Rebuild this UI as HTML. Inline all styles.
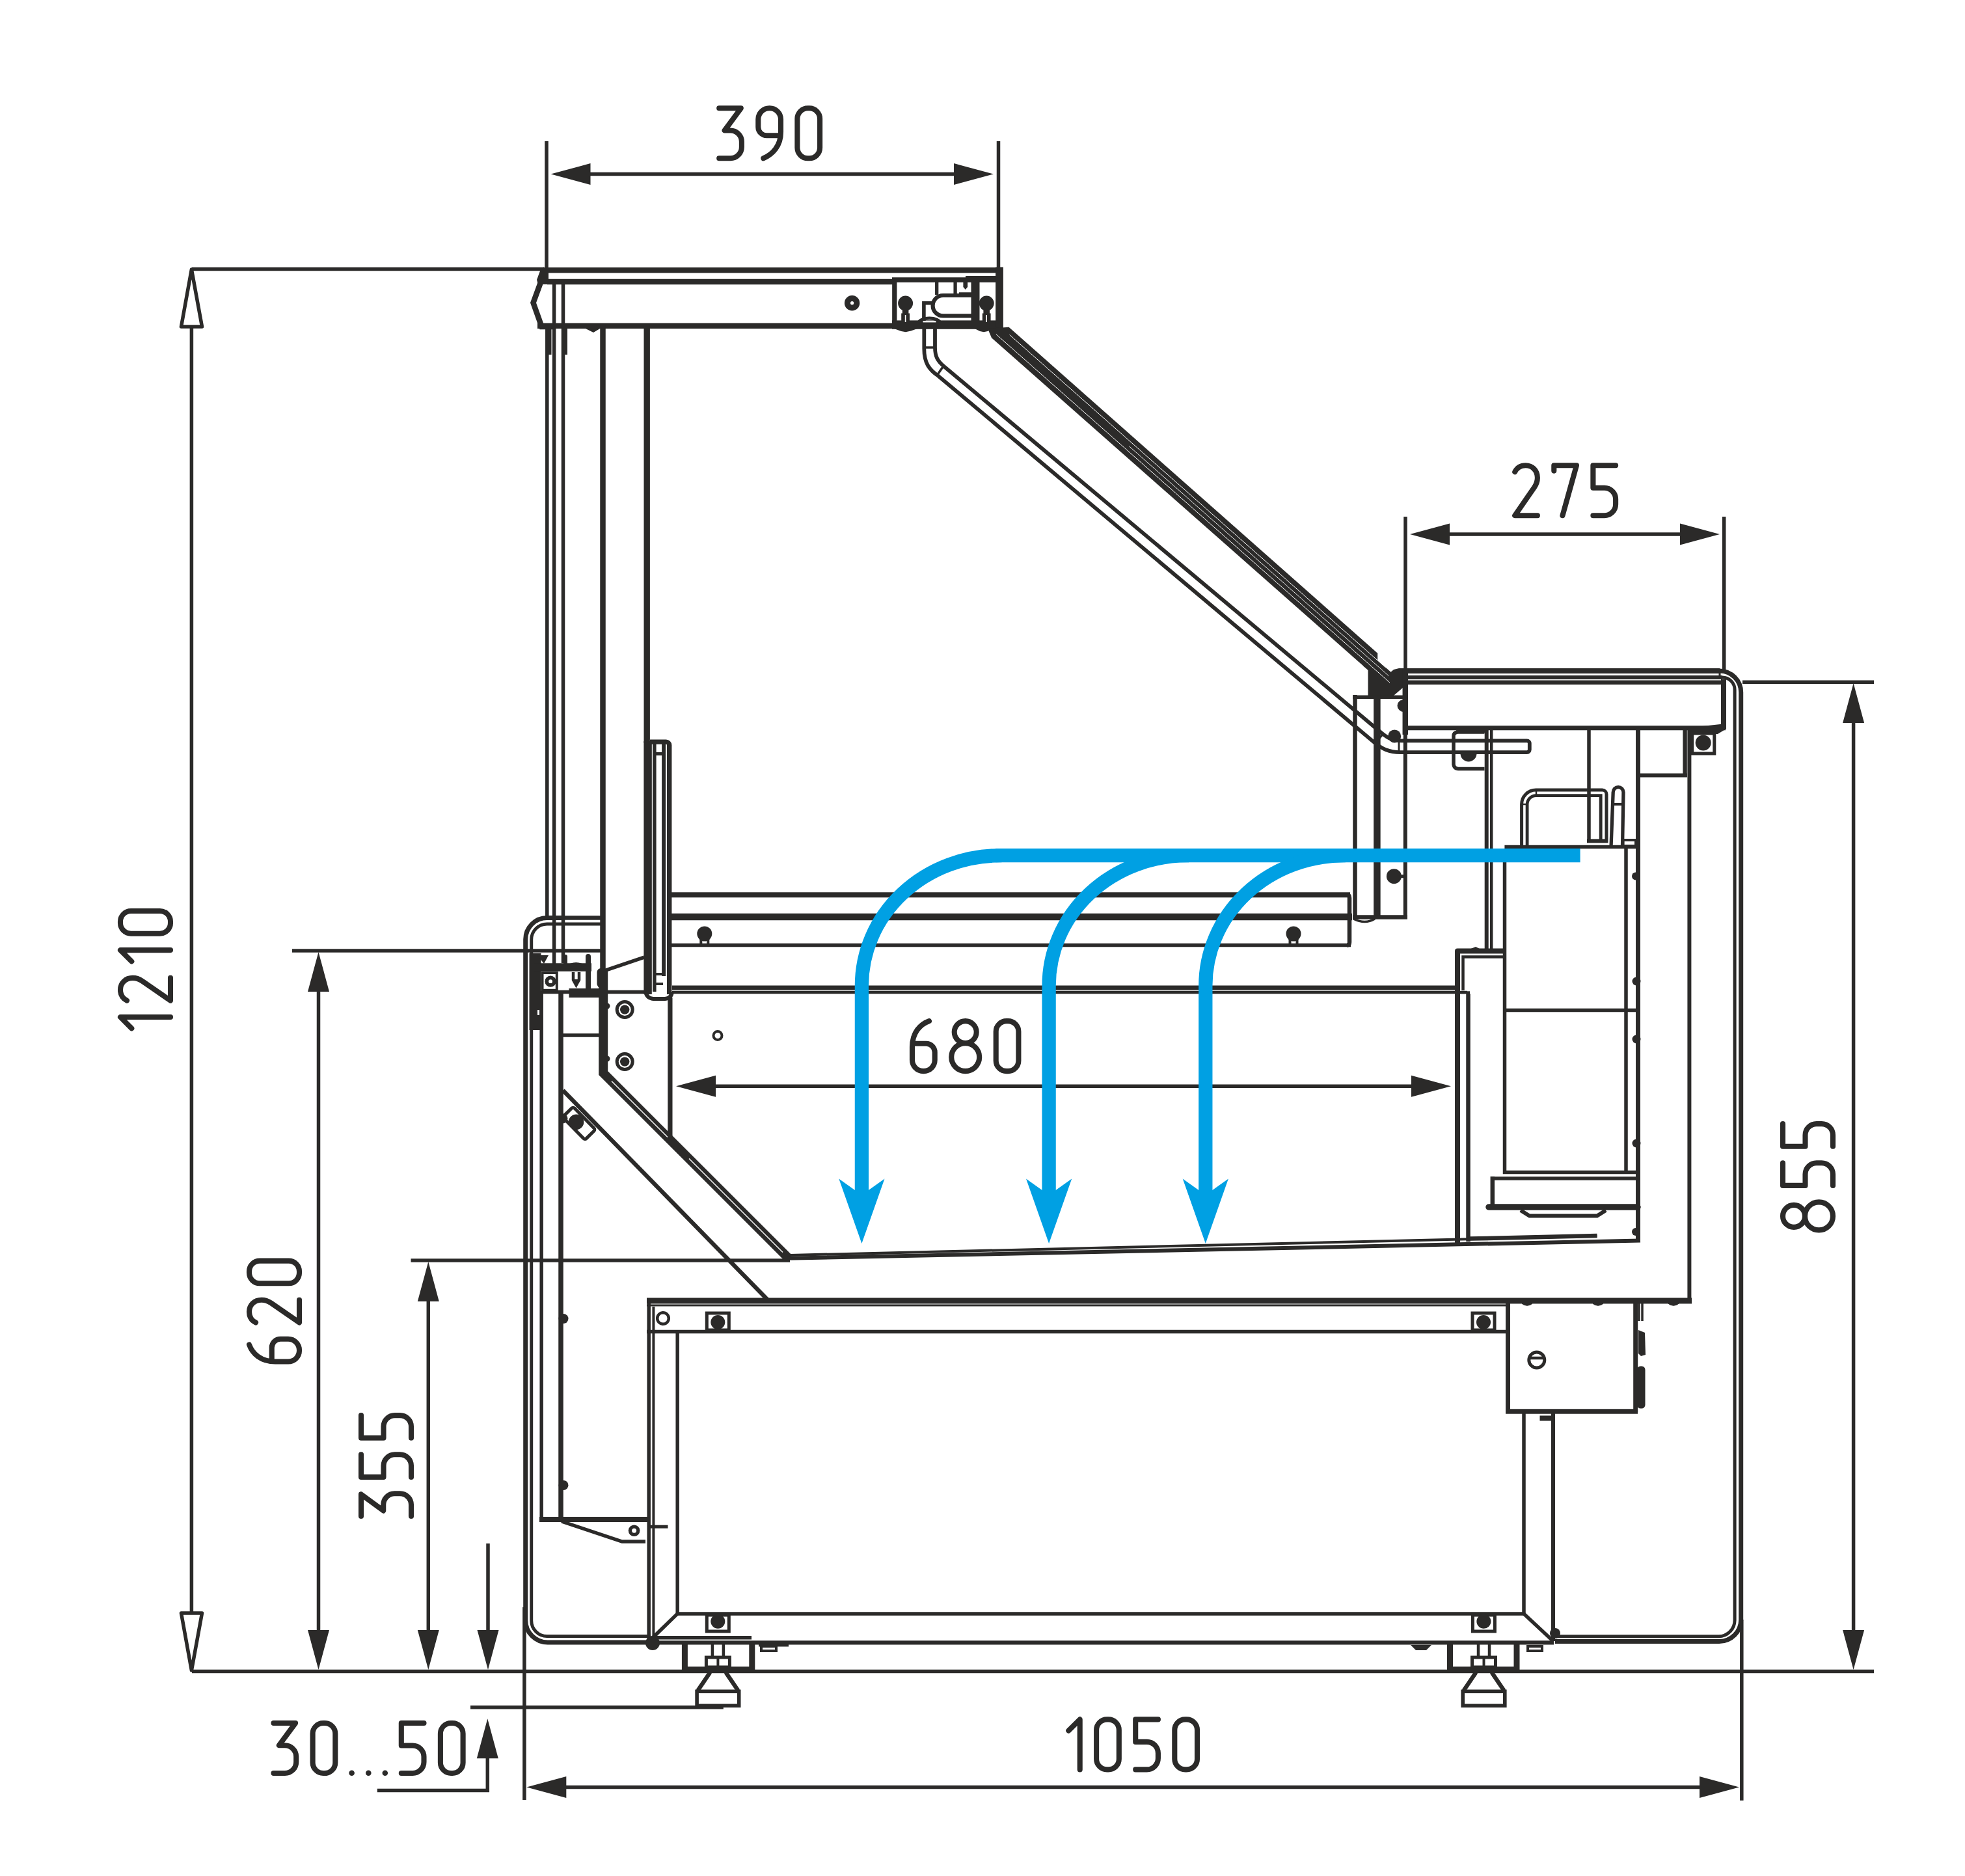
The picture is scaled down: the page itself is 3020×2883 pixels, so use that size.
<!DOCTYPE html>
<html><head><meta charset="utf-8"><title>drawing</title>
<style>html,body{margin:0;padding:0;width:3020px;height:2883px;overflow:hidden;background:#fff;font-family:"Liberation Sans",sans-serif}svg{display:block}</style>
</head><body>
<svg width="3020" height="2883" viewBox="0 0 3020 2883">
<rect x="0" y="0" width="3020" height="2883" fill="#ffffff"/>
<line x1="840.0" y1="217.0" x2="840.0" y2="412.0" stroke="#2b2a29" stroke-width="5.5" stroke-linecap="butt"/>
<line x1="1534.5" y1="217.0" x2="1534.5" y2="414.0" stroke="#2b2a29" stroke-width="5.5" stroke-linecap="butt"/>
<line x1="880.0" y1="267.6" x2="1490.0" y2="267.6" stroke="#2b2a29" stroke-width="5.5" stroke-linecap="butt"/>
<polygon points="846.5,267.6 907.5,251.1 907.5,284.1" fill="#2b2a29"/>
<polygon points="1527.0,267.6 1466.0,251.1 1466.0,284.1" fill="#2b2a29"/>
<g transform="translate(1105.2,243.3)" fill="none" stroke="#2b2a29" stroke-width="8.1" stroke-linecap="round" stroke-linejoin="round">
<path transform="translate(0.0,-77.0)" d="M0,0 H33.6 L8.4,34.2 H17.4 A17.3 17.3 0 0 1 34.7,51.5 V59.7 A17.3 17.3 0 0 1 17.4,77 H0"/>
<path transform="translate(60.1,-77.0)" d="M34.7,17 A17 17 0 0 0 17.7,0 H17 A17 17 0 0 0 0,17 V29 A13 13 0 0 0 13,42 H34 M34.7,17 V37 C34.7,58 22,71 8,77"/>
<path transform="translate(120.2,-77.0)" d="M0,16.2 A16.2 16.2 0 0 1 16.2,0 H18.500000000000004 A16.2 16.2 0 0 1 34.7,16.2 V60.8 A16.2 16.2 0 0 1 18.500000000000004,77.0 H16.2 A16.2 16.2 0 0 1 0,60.8 Z"/>
</g>
<line x1="295.0" y1="413.5" x2="836.0" y2="413.5" stroke="#2b2a29" stroke-width="5.5" stroke-linecap="butt"/>
<line x1="294.4" y1="500.0" x2="294.4" y2="2481.0" stroke="#2b2a29" stroke-width="5.5" stroke-linecap="butt"/>
<path d="M294.4,414 L278.5,502 H310.5 Z" stroke="#2b2a29" stroke-width="5.5" fill="none" stroke-linejoin="round" stroke-linecap="butt" />
<path d="M294.4,2567 L278.5,2479 H310.5 Z" stroke="#2b2a29" stroke-width="5.5" fill="none" stroke-linejoin="round" stroke-linecap="butt" />
<g transform="translate(262.0,1580.4) rotate(-90)" fill="none" stroke="#2b2a29" stroke-width="8.1" stroke-linecap="round" stroke-linejoin="round">
<path transform="translate(0.0,-77.0)" d="M0,17.3 L17.4,0 V77"/>
<path transform="translate(42.8,-77.0)" d="M0,10 C3,4 9,0 16.5,0 C27,0 34.7,8 34.7,19 C34.7,25 33,29 30,33.5 L0,77 H34.7"/>
<path transform="translate(102.9,-77.0)" d="M0,17.3 L17.4,0 V77"/>
<path transform="translate(145.7,-77.0)" d="M0,16.2 A16.2 16.2 0 0 1 16.2,0 H18.500000000000004 A16.2 16.2 0 0 1 34.7,16.2 V60.8 A16.2 16.2 0 0 1 18.500000000000004,77.0 H16.2 A16.2 16.2 0 0 1 0,60.8 Z"/>
</g>
<line x1="449.0" y1="1461.0" x2="923.0" y2="1461.0" stroke="#2b2a29" stroke-width="5.5" stroke-linecap="butt"/>
<line x1="489.5" y1="1500.0" x2="489.5" y2="2530.0" stroke="#2b2a29" stroke-width="5.5" stroke-linecap="butt"/>
<polygon points="489.5,1463.0 473.0,1524.0 506.0,1524.0" fill="#2b2a29"/>
<polygon points="489.5,2566.0 473.0,2505.0 506.0,2505.0" fill="#2b2a29"/>
<g transform="translate(460.0,2092.5) rotate(-90)" fill="none" stroke="#2b2a29" stroke-width="8.1" stroke-linecap="round" stroke-linejoin="round">
<path transform="translate(0.0,-77.0)" d="M26,0 C12,5 0,18 0,40 V60 A17 17 0 0 0 17,77 H17.7 A17 17 0 0 0 34.7,60 V48 A13.3 13.3 0 0 0 21.4,34.7 H1"/>
<path transform="translate(60.1,-77.0)" d="M0,10 C3,4 9,0 16.5,0 C27,0 34.7,8 34.7,19 C34.7,25 33,29 30,33.5 L0,77 H34.7"/>
<path transform="translate(120.2,-77.0)" d="M0,16.2 A16.2 16.2 0 0 1 16.2,0 H18.500000000000004 A16.2 16.2 0 0 1 34.7,16.2 V60.8 A16.2 16.2 0 0 1 18.500000000000004,77.0 H16.2 A16.2 16.2 0 0 1 0,60.8 Z"/>
</g>
<line x1="631.5" y1="1937.0" x2="1214.0" y2="1937.0" stroke="#2b2a29" stroke-width="5.5" stroke-linecap="butt"/>
<line x1="658.3" y1="1980.0" x2="658.3" y2="2530.0" stroke="#2b2a29" stroke-width="5.5" stroke-linecap="butt"/>
<polygon points="658.3,1939.0 641.8,2000.0 674.8,2000.0" fill="#2b2a29"/>
<polygon points="658.3,2566.0 641.8,2505.0 674.8,2505.0" fill="#2b2a29"/>
<g transform="translate(632.0,2330.0) rotate(-90)" fill="none" stroke="#2b2a29" stroke-width="8.1" stroke-linecap="round" stroke-linejoin="round">
<path transform="translate(0.0,-77.0)" d="M0,0 H33.6 L8.4,34.2 H17.4 A17.3 17.3 0 0 1 34.7,51.5 V59.7 A17.3 17.3 0 0 1 17.4,77 H0"/>
<path transform="translate(60.1,-77.0)" d="M34.7,0 H0 V34.5 H17.4 A17.3 17.3 0 0 1 34.7,51.8 V59.7 A17.3 17.3 0 0 1 17.4,77 H0"/>
<path transform="translate(120.2,-77.0)" d="M34.7,0 H0 V34.5 H17.4 A17.3 17.3 0 0 1 34.7,51.8 V59.7 A17.3 17.3 0 0 1 17.4,77 H0"/>
</g>
<line x1="750.0" y1="2372.0" x2="750.0" y2="2530.0" stroke="#2b2a29" stroke-width="5.5" stroke-linecap="butt"/>
<polygon points="750.0,2566.0 733.5,2505.0 766.5,2505.0" fill="#2b2a29"/>
<line x1="723.0" y1="2623.8" x2="1111.8" y2="2623.8" stroke="#2b2a29" stroke-width="5.5" stroke-linecap="butt"/>
<polygon points="749.3,2641.2 732.8,2702.2 765.8,2702.2" fill="#2b2a29"/>
<line x1="749.3" y1="2690.0" x2="749.3" y2="2754.0" stroke="#2b2a29" stroke-width="5.5" stroke-linecap="butt"/>
<line x1="579.8" y1="2751.4" x2="752.0" y2="2751.4" stroke="#2b2a29" stroke-width="5.5" stroke-linecap="butt"/>
<g transform="translate(420.5,2725.0)" fill="none" stroke="#2b2a29" stroke-width="8.1" stroke-linecap="round" stroke-linejoin="round">
<path transform="translate(0.0,-77.0)" d="M0,0 H33.6 L8.4,34.2 H17.4 A17.3 17.3 0 0 1 34.7,51.5 V59.7 A17.3 17.3 0 0 1 17.4,77 H0"/>
<path transform="translate(60.1,-77.0)" d="M0,16.2 A16.2 16.2 0 0 1 16.2,0 H18.500000000000004 A16.2 16.2 0 0 1 34.7,16.2 V60.8 A16.2 16.2 0 0 1 18.500000000000004,77.0 H16.2 A16.2 16.2 0 0 1 0,60.8 Z"/>
</g>
<circle cx="540.6" cy="2724.7" r="4.3" fill="#2b2a29" stroke="none" stroke-width="0"/>
<circle cx="566.3" cy="2724.7" r="4.3" fill="#2b2a29" stroke="none" stroke-width="0"/>
<circle cx="591.8" cy="2724.7" r="4.3" fill="#2b2a29" stroke="none" stroke-width="0"/>
<g transform="translate(616.8,2725.0)" fill="none" stroke="#2b2a29" stroke-width="8.1" stroke-linecap="round" stroke-linejoin="round">
<path transform="translate(0.0,-77.0)" d="M34.7,0 H0 V34.5 H17.4 A17.3 17.3 0 0 1 34.7,51.8 V59.7 A17.3 17.3 0 0 1 17.4,77 H0"/>
<path transform="translate(60.1,-77.0)" d="M0,16.2 A16.2 16.2 0 0 1 16.2,0 H18.500000000000004 A16.2 16.2 0 0 1 34.7,16.2 V60.8 A16.2 16.2 0 0 1 18.500000000000004,77.0 H16.2 A16.2 16.2 0 0 1 0,60.8 Z"/>
</g>
<line x1="295.0" y1="2568.4" x2="2880.0" y2="2568.4" stroke="#2b2a29" stroke-width="5.5" stroke-linecap="butt"/>
<line x1="805.9" y1="2470.0" x2="805.9" y2="2766.0" stroke="#2b2a29" stroke-width="5.5" stroke-linecap="butt"/>
<line x1="2676.8" y1="2489.0" x2="2676.8" y2="2767.0" stroke="#2b2a29" stroke-width="5.5" stroke-linecap="butt"/>
<line x1="850.0" y1="2746.4" x2="2630.0" y2="2746.4" stroke="#2b2a29" stroke-width="5.5" stroke-linecap="butt"/>
<polygon points="809.3,2746.4 870.3,2729.9 870.3,2762.9" fill="#2b2a29"/>
<polygon points="2673.0,2746.4 2612.0,2729.9 2612.0,2762.9" fill="#2b2a29"/>
<g transform="translate(1642.3,2719.4)" fill="none" stroke="#2b2a29" stroke-width="8.1" stroke-linecap="round" stroke-linejoin="round">
<path transform="translate(0.0,-77.0)" d="M0,17.3 L17.4,0 V77"/>
<path transform="translate(42.8,-77.0)" d="M0,16.2 A16.2 16.2 0 0 1 16.2,0 H18.500000000000004 A16.2 16.2 0 0 1 34.7,16.2 V60.8 A16.2 16.2 0 0 1 18.500000000000004,77.0 H16.2 A16.2 16.2 0 0 1 0,60.8 Z"/>
<path transform="translate(102.9,-77.0)" d="M34.7,0 H0 V34.5 H17.4 A17.3 17.3 0 0 1 34.7,51.8 V59.7 A17.3 17.3 0 0 1 17.4,77 H0"/>
<path transform="translate(163.0,-77.0)" d="M0,16.2 A16.2 16.2 0 0 1 16.2,0 H18.500000000000004 A16.2 16.2 0 0 1 34.7,16.2 V60.8 A16.2 16.2 0 0 1 18.500000000000004,77.0 H16.2 A16.2 16.2 0 0 1 0,60.8 Z"/>
</g>
<line x1="2678.0" y1="1048.2" x2="2880.0" y2="1048.2" stroke="#2b2a29" stroke-width="5.5" stroke-linecap="butt"/>
<line x1="2848.6" y1="1090.0" x2="2848.6" y2="2530.0" stroke="#2b2a29" stroke-width="5.5" stroke-linecap="butt"/>
<polygon points="2848.6,1050.0 2832.1,1111.0 2865.1,1111.0" fill="#2b2a29"/>
<polygon points="2848.6,2566.0 2832.1,2505.0 2865.1,2505.0" fill="#2b2a29"/>
<g transform="translate(2817.0,1890.5) rotate(-90)" fill="none" stroke="#2b2a29" stroke-width="8.1" stroke-linecap="round" stroke-linejoin="round">
<path transform="translate(0.0,-77.0)" d="M21.6,0 A17 17 0 1 0 21.6,34 A17 17 0 1 0 21.6,0 Z M21.6,34 A21.5 21.5 0 1 0 21.6,77 A21.5 21.5 0 1 0 21.6,34 Z"/>
<path transform="translate(68.6,-77.0)" d="M34.7,0 H0 V34.5 H17.4 A17.3 17.3 0 0 1 34.7,51.8 V59.7 A17.3 17.3 0 0 1 17.4,77 H0"/>
<path transform="translate(128.7,-77.0)" d="M34.7,0 H0 V34.5 H17.4 A17.3 17.3 0 0 1 34.7,51.8 V59.7 A17.3 17.3 0 0 1 17.4,77 H0"/>
</g>
<line x1="2160.0" y1="794.0" x2="2160.0" y2="1031.0" stroke="#2b2a29" stroke-width="5.5" stroke-linecap="butt"/>
<line x1="2649.7" y1="794.0" x2="2649.7" y2="1029.0" stroke="#2b2a29" stroke-width="5.5" stroke-linecap="butt"/>
<line x1="2200.0" y1="821.0" x2="2610.0" y2="821.0" stroke="#2b2a29" stroke-width="5.5" stroke-linecap="butt"/>
<polygon points="2167.0,821.0 2228.0,804.5 2228.0,837.5" fill="#2b2a29"/>
<polygon points="2643.0,821.0 2582.0,804.5 2582.0,837.5" fill="#2b2a29"/>
<g transform="translate(2328.2,792.2)" fill="none" stroke="#2b2a29" stroke-width="8.1" stroke-linecap="round" stroke-linejoin="round">
<path transform="translate(0.0,-77.0)" d="M0,10 C3,4 9,0 16.5,0 C27,0 34.7,8 34.7,19 C34.7,25 33,29 30,33.5 L0,77 H34.7"/>
<path transform="translate(60.1,-77.0)" d="M0,8.4 V0 H34.7 L13.2,77"/>
<path transform="translate(120.2,-77.0)" d="M34.7,0 H0 V34.5 H17.4 A17.3 17.3 0 0 1 34.7,51.8 V59.7 A17.3 17.3 0 0 1 17.4,77 H0"/>
</g>
<line x1="1080.0" y1="1669.2" x2="2190.0" y2="1669.2" stroke="#2b2a29" stroke-width="5.5" stroke-linecap="butt"/>
<polygon points="1039.0,1669.2 1100.0,1652.7 1100.0,1685.7" fill="#2b2a29"/>
<polygon points="2230.0,1669.2 2169.0,1652.7 2169.0,1685.7" fill="#2b2a29"/>
<g transform="translate(1402.0,1646.1)" fill="none" stroke="#2b2a29" stroke-width="8.1" stroke-linecap="round" stroke-linejoin="round">
<path transform="translate(0.0,-77.0)" d="M26,0 C12,5 0,18 0,40 V60 A17 17 0 0 0 17,77 H17.7 A17 17 0 0 0 34.7,60 V48 A13.3 13.3 0 0 0 21.4,34.7 H1"/>
<path transform="translate(60.1,-77.0)" d="M21.6,0 A17 17 0 1 0 21.6,34 A17 17 0 1 0 21.6,0 Z M21.6,34 A21.5 21.5 0 1 0 21.6,77 A21.5 21.5 0 1 0 21.6,34 Z"/>
<path transform="translate(128.7,-77.0)" d="M0,16.2 A16.2 16.2 0 0 1 16.2,0 H18.500000000000004 A16.2 16.2 0 0 1 34.7,16.2 V60.8 A16.2 16.2 0 0 1 18.500000000000004,77.0 H16.2 A16.2 16.2 0 0 1 0,60.8 Z"/>
</g>
<line x1="836.0" y1="415.2" x2="1540.0" y2="415.2" stroke="#2b2a29" stroke-width="8.5" stroke-linecap="butt"/>
<line x1="841.0" y1="432.9" x2="1376.0" y2="432.9" stroke="#2b2a29" stroke-width="8.5" stroke-linecap="butt"/>
<line x1="826.0" y1="500.8" x2="1540.0" y2="500.8" stroke="#2b2a29" stroke-width="8.5" stroke-linecap="butt"/>
<path d="M839,412 L819.5,465.3 L832.5,502 H850" stroke="#2b2a29" stroke-width="8.5" fill="none" stroke-linejoin="miter" stroke-linecap="butt" />
<polygon points="832.0,411.0 843.0,411.0 843.0,437.0 827.0,437.0 825.0,430.0" fill="#2b2a29"/>
<line x1="1374.8" y1="430.0" x2="1374.8" y2="503.0" stroke="#2b2a29" stroke-width="7.3" stroke-linecap="butt"/>
<line x1="1371.0" y1="430.2" x2="1540.0" y2="430.2" stroke="#2b2a29" stroke-width="7.8" stroke-linecap="butt"/>
<line x1="1484.0" y1="429.0" x2="1540.0" y2="429.0" stroke="#2b2a29" stroke-width="10" stroke-linecap="butt"/>
<rect x="1371.0" y="492.4" width="170.0" height="13.4" rx="0" stroke="#2b2a29" stroke-width="0" fill="#2b2a29"/>
<line x1="1536.0" y1="410.5" x2="1536.0" y2="505.8" stroke="#2b2a29" stroke-width="11.8" stroke-linecap="butt"/>
<circle cx="1309.6" cy="465.7" r="11.7" fill="#2b2a29" stroke="none" stroke-width="0"/>
<circle cx="1309.6" cy="465.7" r="2.6" fill="#fff" stroke="none" stroke-width="0"/>
<circle cx="1391.6" cy="466.1" r="11.5" fill="#2b2a29" stroke="none" stroke-width="0"/>
<rect x="1386.8" y="476.0" width="9.6" height="6.0" rx="0" stroke="#2b2a29" stroke-width="0" fill="#2b2a29"/>
<rect x="1385.2" y="481.5" width="12.8" height="12.5" rx="0" stroke="#2b2a29" stroke-width="0" fill="#2b2a29"/>
<line x1="1391.6" y1="484.0" x2="1391.6" y2="495.0" stroke="#fff" stroke-width="1.6" stroke-linecap="butt"/>
<circle cx="1516.2" cy="466.1" r="11.5" fill="#2b2a29" stroke="none" stroke-width="0"/>
<rect x="1511.4" y="476.0" width="9.6" height="6.0" rx="0" stroke="#2b2a29" stroke-width="0" fill="#2b2a29"/>
<rect x="1509.8" y="481.5" width="12.8" height="12.5" rx="0" stroke="#2b2a29" stroke-width="0" fill="#2b2a29"/>
<line x1="1516.2" y1="484.0" x2="1516.2" y2="495.0" stroke="#fff" stroke-width="1.6" stroke-linecap="butt"/>
<polygon points="1374.0,505.0 1385.0,509.0 1392.0,510.3 1400.0,508.5 1410.0,505.0" fill="#2b2a29"/>
<polygon points="1498.0,505.0 1506.0,509.0 1512.0,510.3 1518.0,509.0 1524.0,505.0" fill="#2b2a29"/>
<path d="M1496,454 H1449.3 A15.7 15.7 0 0 0 1449.3,485.4 H1496" stroke="#2b2a29" stroke-width="6.2" fill="none" stroke-linejoin="miter" stroke-linecap="butt" />
<line x1="1499.0" y1="433.0" x2="1499.0" y2="493.0" stroke="#2b2a29" stroke-width="13" stroke-linecap="butt"/>
<line x1="1439.7" y1="433.0" x2="1439.7" y2="453.0" stroke="#2b2a29" stroke-width="5.3" stroke-linecap="butt"/>
<line x1="1468.1" y1="433.0" x2="1468.1" y2="453.0" stroke="#2b2a29" stroke-width="5.3" stroke-linecap="butt"/>
<line x1="1474.0" y1="451.5" x2="1497.0" y2="451.5" stroke="#2b2a29" stroke-width="4.5" stroke-linecap="butt"/>
<polygon points="1480.4,433.0 1487.1,433.0 1487.1,441.0 1483.8,445.0 1480.4,441.0" fill="#2b2a29"/>
<path d="M1419.9,494 V465.7 H1432" stroke="#2b2a29" stroke-width="5.6" fill="none" stroke-linejoin="miter" stroke-linecap="butt" />
<path d="M1412,496.3 A16.3 7.2 0 0 1 1444.6,496.3" stroke="#2b2a29" stroke-width="5" fill="none" stroke-linejoin="miter" stroke-linecap="butt" />
<line x1="1418.5" y1="494.3" x2="1438.5" y2="494.3" stroke="#fff" stroke-width="2.2" stroke-linecap="butt"/>
<line x1="840.8" y1="503.0" x2="840.8" y2="1410.0" stroke="#2b2a29" stroke-width="5.5" stroke-linecap="butt"/>
<line x1="851.6" y1="433.0" x2="851.6" y2="1482.0" stroke="#2b2a29" stroke-width="5.5" stroke-linecap="butt"/>
<line x1="865.5" y1="433.0" x2="865.5" y2="1480.0" stroke="#2b2a29" stroke-width="5.5" stroke-linecap="butt"/>
<rect x="839.5" y="505.0" width="8.0" height="40.0" rx="0" stroke="#2b2a29" stroke-width="0" fill="#2b2a29"/>
<rect x="864.5" y="505.0" width="7.5" height="40.0" rx="0" stroke="#2b2a29" stroke-width="0" fill="#2b2a29"/>
<polygon points="900.0,505.0 912.0,511.0 922.0,505.0" fill="#2b2a29"/>
<line x1="926.5" y1="500.0" x2="926.5" y2="1490.0" stroke="#2b2a29" stroke-width="8.5" stroke-linecap="butt"/>
<path d="M1437,505 V534 C1437,548 1441,555 1451,563.2 L2124,1126.9 C2134,1134.9 2141,1138.3 2154,1138.3 H2344" stroke="#2b2a29" stroke-width="5.8" fill="none" stroke-linejoin="miter" stroke-linecap="butt" />
<path d="M1420.3,505 V536 C1420.3,558 1428,568 1442,577.7 L2112,1140.9 C2124,1150.9 2135,1156.1 2152,1156.1 H2344" stroke="#2b2a29" stroke-width="5.8" fill="none" stroke-linejoin="miter" stroke-linecap="butt" />
<path d="M2344,1138.3 H2346.8 A4 4 0 0 1 2350.8,1142.3 V1152.1 A4 4 0 0 1 2346.8,1156.1 H2344" stroke="#2b2a29" stroke-width="5.8" fill="none" stroke-linejoin="miter" stroke-linecap="butt" />
<line x1="1420.0" y1="534.0" x2="1437.0" y2="534.0" stroke="#2b2a29" stroke-width="3.5" stroke-linecap="butt"/>
<line x1="1440.0" y1="577.0" x2="1451.0" y2="561.0" stroke="#2b2a29" stroke-width="3.5" stroke-linecap="butt"/>
<line x1="2114.0" y1="1142.0" x2="2126.0" y2="1127.0" stroke="#2b2a29" stroke-width="3.5" stroke-linecap="butt"/>
<line x1="2150.0" y1="1138.0" x2="2150.0" y2="1156.0" stroke="#2b2a29" stroke-width="3" stroke-linecap="butt"/>
<polygon points="1550.5,502.7 2116.5,1003.3 2097.2,1025.1 1524.0,519.2 1518.0,505.0" fill="#2b2a29"/>
<polygon points="2109.1,1007.6 2146.6,1040.8 2132.7,1056.5 2095.2,1023.4" fill="#2b2a29"/>
<polygon points="2102.5,1003.3 2117.2,1003.3 2117.2,1018.0 2136.0,1034.0 2142.0,1029.0 2150.0,1027.0 2157.0,1027.0 2157.0,1056.0 2141.0,1069.8 2102.5,1069.8" fill="#2b2a29"/>
<line x1="1551.6" y1="514.5" x2="2129.6" y2="1025.8" stroke="#fff" stroke-width="1.0" stroke-linecap="butt"/>
<line x1="1530.9" y1="513.7" x2="2135.9" y2="1048.9" stroke="#fff" stroke-width="1.0" stroke-linecap="butt"/>
<line x1="1735.3" y1="685.7" x2="2134.3" y2="1038.6" stroke="#fff" stroke-width="0.9" stroke-linecap="butt"/>
<path d="M868,1410.5 H840.7 A33 33 0 0 0 807.7,1443.5 V2490 A34 34 0 0 0 841.7,2524 H1000" stroke="#2b2a29" stroke-width="7" fill="none" stroke-linejoin="miter" stroke-linecap="butt" />
<path d="M868,1420 H840.7 A24 24 0 0 0 816.7,1444 V2490.5 A24 24 0 0 0 840.7,2514.5 H1000" stroke="#2b2a29" stroke-width="5" fill="none" stroke-linejoin="miter" stroke-linecap="butt" />
<line x1="868.0" y1="1410.5" x2="923.0" y2="1410.5" stroke="#2b2a29" stroke-width="6.5" stroke-linecap="butt"/>
<line x1="868.0" y1="1420.0" x2="923.0" y2="1420.0" stroke="#2b2a29" stroke-width="5" stroke-linecap="butt"/>
<line x1="832.2" y1="1523.0" x2="832.2" y2="2337.0" stroke="#2b2a29" stroke-width="5.5" stroke-linecap="butt"/>
<line x1="862.0" y1="1524.0" x2="862.0" y2="2337.0" stroke="#2b2a29" stroke-width="7.5" stroke-linecap="butt"/>
<line x1="829.0" y1="2335.0" x2="996.0" y2="2335.0" stroke="#2b2a29" stroke-width="8" stroke-linecap="butt"/>
<circle cx="866.0" cy="2026.6" r="7.5" fill="#2b2a29" stroke="none" stroke-width="0"/>
<circle cx="866.0" cy="2282.4" r="7.5" fill="#2b2a29" stroke="none" stroke-width="0"/>
<path d="M863,2338 L956,2369 H992" stroke="#2b2a29" stroke-width="5.5" fill="none" stroke-linejoin="miter" stroke-linecap="butt" />
<circle cx="974.6" cy="2352.3" r="8.8" fill="#2b2a29" stroke="none" stroke-width="0"/>
<circle cx="974.6" cy="2352.3" r="3.5" fill="#fff" stroke="none" stroke-width="0"/>
<line x1="998.0" y1="2346.2" x2="1026.5" y2="2346.2" stroke="#2b2a29" stroke-width="5" stroke-linecap="butt"/>
<rect x="813.5" y="1465.0" width="18.0" height="118.0" rx="0" stroke="#2b2a29" stroke-width="0" fill="#2b2a29"/>
<rect x="826.0" y="1552.0" width="3.0" height="8.0" rx="0" stroke="#2b2a29" stroke-width="0" fill="#fff"/>
<line x1="831.6" y1="1524.5" x2="998.0" y2="1524.5" stroke="#2b2a29" stroke-width="5.5" stroke-linecap="butt"/>
<path d="M820,1486.5 H909" stroke="#2b2a29" stroke-width="12.5" fill="none" stroke-linejoin="miter" stroke-linecap="butt" />
<polygon points="826.0,1468.0 843.0,1468.0 836.0,1481.0" fill="#2b2a29"/>
<path d="M869,1487 Q885,1474 902,1487 Z" stroke="#2b2a29" stroke-width="3" fill="#2b2a29" stroke-linejoin="miter" stroke-linecap="butt" />
<line x1="904.0" y1="1470.0" x2="904.0" y2="1520.0" stroke="#2b2a29" stroke-width="8" stroke-linecap="round"/>
<line x1="869.0" y1="1470.0" x2="869.0" y2="1482.0" stroke="#2b2a29" stroke-width="6" stroke-linecap="round"/>
<rect x="833.5" y="1495.0" width="22.3" height="26.8" rx="0" stroke="#2b2a29" stroke-width="4" fill="none"/>
<circle cx="846.1" cy="1508.2" r="8.6" fill="#2b2a29" stroke="none" stroke-width="0"/>
<circle cx="846.1" cy="1508.2" r="2.9" fill="#fff" stroke="none" stroke-width="0"/>
<path d="M881,1494 V1506 L885.5,1514 L890,1506 V1494" stroke="#2b2a29" stroke-width="4.5" fill="none" stroke-linejoin="miter" stroke-linecap="butt" />
<polygon points="880.0,1505.0 891.0,1505.0 885.5,1516.0" fill="#2b2a29"/>
<rect x="874.5" y="1519.0" width="46.5" height="14.0" rx="0" stroke="#2b2a29" stroke-width="0" fill="#2b2a29"/>
<rect x="917.5" y="1488.0" width="13.0" height="30.0" rx="6" stroke="#2b2a29" stroke-width="0" fill="#2b2a29"/>
<path d="M930,1491.3 L990,1471.2" stroke="#2b2a29" stroke-width="5.5" fill="none" stroke-linejoin="miter" stroke-linecap="butt" />
<line x1="994.2" y1="500.0" x2="994.2" y2="1142.0" stroke="#2b2a29" stroke-width="9.4" stroke-linecap="butt"/>
<line x1="995.6" y1="1139.0" x2="995.6" y2="1528.0" stroke="#2b2a29" stroke-width="12.4" stroke-linecap="butt"/>
<path d="M999,1140.1 H1023.7 A5 5 0 0 1 1028.7,1145.1 V1528" stroke="#2b2a29" stroke-width="7.4" fill="none" stroke-linejoin="miter" stroke-linecap="butt" />
<line x1="1005.8" y1="1141.0" x2="1005.8" y2="1524.0" stroke="#2b2a29" stroke-width="5.6" stroke-linecap="butt"/>
<line x1="1020.1" y1="1141.0" x2="1020.1" y2="1500.0" stroke="#2b2a29" stroke-width="6" stroke-linecap="butt"/>
<line x1="1007.0" y1="1158.4" x2="1019.0" y2="1158.4" stroke="#2b2a29" stroke-width="5" stroke-linecap="butt"/>
<line x1="1007.0" y1="1497.0" x2="1019.0" y2="1497.0" stroke="#2b2a29" stroke-width="4" stroke-linecap="butt"/>
<line x1="1007.0" y1="1512.0" x2="1019.0" y2="1512.0" stroke="#2b2a29" stroke-width="4" stroke-linecap="butt"/>
<path d="M992,1524 Q994,1534 1004,1535 H1022 Q1032,1534 1033,1524" stroke="#2b2a29" stroke-width="6" fill="none" stroke-linejoin="miter" stroke-linecap="butt" />
<line x1="1031.6" y1="1375.3" x2="2075.0" y2="1375.3" stroke="#2b2a29" stroke-width="8" stroke-linecap="butt"/>
<line x1="1031.6" y1="1409.0" x2="2078.0" y2="1409.0" stroke="#2b2a29" stroke-width="10.5" stroke-linecap="butt"/>
<line x1="1031.6" y1="1452.5" x2="2076.0" y2="1452.5" stroke="#2b2a29" stroke-width="5.5" stroke-linecap="butt"/>
<path d="M2070,1375.3 Q2074,1375.3 2074,1380 V1448 Q2074,1452.5 2070,1452.5" stroke="#2b2a29" stroke-width="6.5" fill="none" stroke-linejoin="miter" stroke-linecap="butt" />
<circle cx="1082.8" cy="1435.0" r="11.5" fill="#2b2a29" stroke="none" stroke-width="0"/>
<rect x="1077.3" y="1444.0" width="11.0" height="8.0" rx="0" stroke="#2b2a29" stroke-width="4" fill="none"/>
<circle cx="1988.0" cy="1435.0" r="11.5" fill="#2b2a29" stroke="none" stroke-width="0"/>
<rect x="1982.5" y="1444.0" width="11.0" height="8.0" rx="0" stroke="#2b2a29" stroke-width="4" fill="none"/>
<line x1="1033.0" y1="1518.0" x2="2238.0" y2="1518.0" stroke="#2b2a29" stroke-width="7" stroke-linecap="butt"/>
<line x1="1033.0" y1="1525.0" x2="2255.0" y2="1525.0" stroke="#2b2a29" stroke-width="4.5" stroke-linecap="butt"/>
<path d="M927.2,1490 V1649 L1212,1933.8" stroke="#2b2a29" stroke-width="14" fill="none" stroke-linejoin="miter" stroke-linecap="butt" />
<line x1="940.0" y1="1661.6" x2="1026.0" y2="1747.6" stroke="#fff" stroke-width="1.4" stroke-linecap="butt"/>
<line x1="1059.0" y1="1780.6" x2="1203.0" y2="1924.6" stroke="#fff" stroke-width="1.4" stroke-linecap="butt"/>
<line x1="1209.5" y1="1933.8" x2="2521.0" y2="1906.5" stroke="#2b2a29" stroke-width="6" stroke-linecap="butt"/>
<line x1="1214.0" y1="1929.0" x2="2454.5" y2="1899.5" stroke="#2b2a29" stroke-width="4" stroke-linecap="butt"/>
<line x1="2258.6" y1="1903.6" x2="2454.5" y2="1899.0" stroke="#2b2a29" stroke-width="6.5" stroke-linecap="butt"/>
<line x1="1029.9" y1="1533.0" x2="1029.9" y2="1748.0" stroke="#2b2a29" stroke-width="7.2" stroke-linecap="butt"/>
<line x1="865.0" y1="1591.0" x2="921.0" y2="1591.0" stroke="#2b2a29" stroke-width="5.5" stroke-linecap="butt"/>
<circle cx="960.2" cy="1551.6" r="12" fill="none" stroke="#2b2a29" stroke-width="5"/>
<circle cx="960.2" cy="1551.6" r="7.2" fill="#2b2a29" stroke="none" stroke-width="0"/>
<circle cx="960.2" cy="1631.6" r="12" fill="none" stroke="#2b2a29" stroke-width="5"/>
<circle cx="960.2" cy="1631.6" r="7.2" fill="#2b2a29" stroke="none" stroke-width="0"/>
<circle cx="933.0" cy="1546.0" r="4.5" fill="#2b2a29" stroke="none" stroke-width="0"/>
<circle cx="933.0" cy="1627.0" r="4.5" fill="#2b2a29" stroke="none" stroke-width="0"/>
<circle cx="1103.0" cy="1591.5" r="6.5" fill="none" stroke="#2b2a29" stroke-width="4"/>
<line x1="865.3" y1="1675.7" x2="1183.0" y2="2000.7" stroke="#2b2a29" stroke-width="6.4" stroke-linecap="butt"/>
<g transform="translate(874.5,1694.5) rotate(45.6)"><rect x="9" y="0" width="49" height="22.6" rx="3" fill="none" stroke="#2b2a29" stroke-width="5"/><circle cx="29" cy="13" r="11.8" fill="#2b2a29"/></g>
<path d="M865,1712 A5.5 5.5 0 0 1 865,1726 Z" stroke="#2b2a29" stroke-width="1" fill="#2b2a29" stroke-linejoin="miter" stroke-linecap="butt" />
<line x1="994.0" y1="1999.0" x2="2600.0" y2="1999.0" stroke="#2b2a29" stroke-width="9" stroke-linecap="butt"/>
<line x1="994.0" y1="2006.0" x2="2318.0" y2="2006.0" stroke="#2b2a29" stroke-width="3" stroke-linecap="butt"/>
<line x1="997.2" y1="1996.0" x2="997.2" y2="2520.0" stroke="#2b2a29" stroke-width="5.5" stroke-linecap="butt"/>
<line x1="1004.4" y1="2008.0" x2="1004.4" y2="2520.0" stroke="#2b2a29" stroke-width="4" stroke-linecap="butt"/>
<line x1="994.0" y1="2046.6" x2="2318.0" y2="2046.6" stroke="#2b2a29" stroke-width="5.5" stroke-linecap="butt"/>
<line x1="1041.2" y1="2046.0" x2="1041.2" y2="2480.0" stroke="#2b2a29" stroke-width="5.5" stroke-linecap="butt"/>
<line x1="1039.0" y1="2479.9" x2="2344.0" y2="2479.9" stroke="#2b2a29" stroke-width="5.5" stroke-linecap="butt"/>
<line x1="1041.2" y1="2479.9" x2="1003.0" y2="2517.0" stroke="#2b2a29" stroke-width="5.5" stroke-linecap="butt"/>
<line x1="1006.0" y1="2516.8" x2="1155.0" y2="2516.8" stroke="#2b2a29" stroke-width="5.4" stroke-linecap="butt"/>
<line x1="1004.0" y1="2524.4" x2="2388.0" y2="2524.4" stroke="#2b2a29" stroke-width="6.2" stroke-linecap="butt"/>
<circle cx="1003.0" cy="2525.0" r="11" fill="#2b2a29" stroke="none" stroke-width="0"/>
<circle cx="1019.0" cy="2026.0" r="8.8" fill="none" stroke="#2b2a29" stroke-width="4.5"/>
<rect x="1086.3" y="2018.0" width="34.0" height="26.0" rx="0" stroke="#2b2a29" stroke-width="5" fill="none"/>
<circle cx="1103.3" cy="2032.0" r="11" fill="#2b2a29" stroke="none" stroke-width="0"/>
<rect x="2263.0" y="2018.0" width="34.0" height="26.0" rx="0" stroke="#2b2a29" stroke-width="5" fill="none"/>
<circle cx="2280.0" cy="2032.0" r="11" fill="#2b2a29" stroke="none" stroke-width="0"/>
<rect x="1086.3" y="2482.0" width="34.0" height="25.0" rx="0" stroke="#2b2a29" stroke-width="5" fill="none"/>
<circle cx="1103.3" cy="2491.8" r="11" fill="#2b2a29" stroke="none" stroke-width="0"/>
<rect x="2263.4" y="2482.0" width="34.0" height="25.0" rx="0" stroke="#2b2a29" stroke-width="5" fill="none"/>
<circle cx="2280.4" cy="2491.8" r="11" fill="#2b2a29" stroke="none" stroke-width="0"/>
<line x1="2342.0" y1="2172.0" x2="2342.0" y2="2480.0" stroke="#2b2a29" stroke-width="5.5" stroke-linecap="butt"/>
<line x1="2387.0" y1="2172.0" x2="2387.0" y2="2522.0" stroke="#2b2a29" stroke-width="6" stroke-linecap="butt"/>
<line x1="2342.0" y1="2479.9" x2="2387.0" y2="2522.0" stroke="#2b2a29" stroke-width="5.5" stroke-linecap="butt"/>
<circle cx="2390.0" cy="2510.0" r="8" fill="#2b2a29" stroke="none" stroke-width="0"/>
<path d="M1052.4,2527 V2565.7 H1155.8 V2527" stroke="#2b2a29" stroke-width="9" fill="none" stroke-linejoin="miter" stroke-linecap="butt" />
<line x1="1094.9" y1="2527.0" x2="1094.9" y2="2548.0" stroke="#2b2a29" stroke-width="4.5" stroke-linecap="butt"/>
<line x1="1111.9" y1="2527.0" x2="1111.9" y2="2548.0" stroke="#2b2a29" stroke-width="4.5" stroke-linecap="butt"/>
<rect x="1085.4" y="2547.0" width="36.0" height="15.0" rx="0" stroke="#2b2a29" stroke-width="5" fill="none"/>
<line x1="1103.4" y1="2547.0" x2="1103.4" y2="2562.0" stroke="#2b2a29" stroke-width="4" stroke-linecap="butt"/>
<path d="M1091.4,2570 L1072.4,2598 M1115.4,2570 L1134.4,2598" stroke="#2b2a29" stroke-width="6.5" fill="none" stroke-linejoin="miter" stroke-linecap="butt" />
<rect x="1071.1" y="2599.3" width="64.6" height="22.0" rx="0" stroke="#2b2a29" stroke-width="5.6" fill="none"/>
<path d="M2228.5,2527 V2565.7 H2331 V2527" stroke="#2b2a29" stroke-width="9" fill="none" stroke-linejoin="miter" stroke-linecap="butt" />
<line x1="2272.0" y1="2527.0" x2="2272.0" y2="2548.0" stroke="#2b2a29" stroke-width="4.5" stroke-linecap="butt"/>
<line x1="2289.0" y1="2527.0" x2="2289.0" y2="2548.0" stroke="#2b2a29" stroke-width="4.5" stroke-linecap="butt"/>
<rect x="2262.5" y="2547.0" width="36.0" height="15.0" rx="0" stroke="#2b2a29" stroke-width="5" fill="none"/>
<line x1="2280.5" y1="2547.0" x2="2280.5" y2="2562.0" stroke="#2b2a29" stroke-width="4" stroke-linecap="butt"/>
<path d="M2268.5,2570 L2249.5,2598 M2292.5,2570 L2311.5,2598" stroke="#2b2a29" stroke-width="6.5" fill="none" stroke-linejoin="miter" stroke-linecap="butt" />
<rect x="2248.2" y="2599.3" width="64.6" height="22.0" rx="0" stroke="#2b2a29" stroke-width="5.6" fill="none"/>
<rect x="1170.0" y="2530.0" width="23.0" height="7.0" rx="0" stroke="#2b2a29" stroke-width="4" fill="none"/>
<line x1="1166.0" y1="2528.0" x2="1212.0" y2="2528.0" stroke="#2b2a29" stroke-width="5" stroke-linecap="butt"/>
<rect x="2348.0" y="2530.0" width="22.0" height="7.0" rx="0" stroke="#2b2a29" stroke-width="4" fill="none"/>
<polygon points="2168.0,2528.0 2200.0,2528.0 2192.0,2536.0 2176.0,2536.0" fill="#2b2a29"/>
<line x1="2156.0" y1="1031.0" x2="2643.0" y2="1031.0" stroke="#2b2a29" stroke-width="8" stroke-linecap="butt"/>
<line x1="2160.0" y1="1041.0" x2="2647.0" y2="1041.0" stroke="#2b2a29" stroke-width="6" stroke-linecap="butt"/>
<line x1="2160.0" y1="1048.8" x2="2650.0" y2="1048.8" stroke="#2b2a29" stroke-width="6.5" stroke-linecap="butt"/>
<line x1="2159.8" y1="1027.0" x2="2159.8" y2="1129.0" stroke="#2b2a29" stroke-width="8.5" stroke-linecap="butt"/>
<line x1="2649.0" y1="1044.0" x2="2649.0" y2="1117.0" stroke="#2b2a29" stroke-width="8" stroke-linecap="butt"/>
<line x1="2157.0" y1="1118.7" x2="2652.0" y2="1118.7" stroke="#2b2a29" stroke-width="7" stroke-linecap="butt"/>
<polygon points="2598.0,1118.0 2653.0,1112.0 2653.0,1120.0 2640.0,1128.0 2598.0,1128.0" fill="#2b2a29"/>
<path d="M2643,1031 A33 33 0 0 1 2675.7,1064 V2489 A33.5 33.5 0 0 1 2642,2522.5 H2390" stroke="#2b2a29" stroke-width="7" fill="none" stroke-linejoin="miter" stroke-linecap="butt" />
<path d="M2647,1041 A19 19 0 0 1 2666.1,1060 V2489 A25 25 0 0 1 2641,2514.8 H2390" stroke="#2b2a29" stroke-width="5" fill="none" stroke-linejoin="miter" stroke-linecap="butt" />
<line x1="2643.0" y1="1031.0" x2="2643.0" y2="1044.0" stroke="#2b2a29" stroke-width="3" stroke-linecap="butt"/>
<line x1="2442.0" y1="1122.0" x2="2442.0" y2="1295.0" stroke="#2b2a29" stroke-width="5.5" stroke-linecap="butt"/>
<line x1="2517.5" y1="1122.0" x2="2517.5" y2="1909.0" stroke="#2b2a29" stroke-width="7" stroke-linecap="butt"/>
<line x1="2589.6" y1="1122.0" x2="2589.6" y2="1194.0" stroke="#2b2a29" stroke-width="6.4" stroke-linecap="butt"/>
<line x1="2596.4" y1="1122.0" x2="2596.4" y2="2000.0" stroke="#2b2a29" stroke-width="6" stroke-linecap="butt"/>
<line x1="2520.0" y1="1191.5" x2="2593.0" y2="1191.5" stroke="#2b2a29" stroke-width="6" stroke-linecap="butt"/>
<rect x="2600.7" y="1127.0" width="34.1" height="31.0" rx="0" stroke="#2b2a29" stroke-width="5" fill="none"/>
<circle cx="2617.7" cy="1141.5" r="12" fill="#2b2a29" stroke="none" stroke-width="0"/>
<path d="M2338.6,1301 V1236 A22 22 0 0 1 2360.6,1214 H2462.5 A6.5 6.5 0 0 1 2469,1220.5 V1295" stroke="#2b2a29" stroke-width="5" fill="none" stroke-linejoin="miter" stroke-linecap="butt" />
<path d="M2347.1,1301 V1236.2 A13.6 13.6 0 0 1 2360.7,1222.6 H2460.2 V1295" stroke="#2b2a29" stroke-width="4.8" fill="none" stroke-linejoin="miter" stroke-linecap="butt" />
<line x1="2439.0" y1="1292.4" x2="2471.0" y2="1292.4" stroke="#2b2a29" stroke-width="6" stroke-linecap="butt"/>
<line x1="2361.0" y1="1214.0" x2="2361.0" y2="1223.0" stroke="#2b2a29" stroke-width="2.5" stroke-linecap="butt"/>
<line x1="2338.0" y1="1236.0" x2="2347.0" y2="1236.0" stroke="#2b2a29" stroke-width="2.5" stroke-linecap="butt"/>
<path d="M2476,1302 L2479.2,1217.5 A7.9 7.9 0 0 1 2495,1217.5 L2493.5,1302" stroke="#2b2a29" stroke-width="5.3" fill="none" stroke-linejoin="miter" stroke-linecap="butt" />
<line x1="2478.5" y1="1235.9" x2="2494.5" y2="1235.9" stroke="#2b2a29" stroke-width="4" stroke-linecap="butt"/>
<rect x="2494.5" y="1291.0" width="19.5" height="9.0" rx="0" stroke="#2b2a29" stroke-width="4" fill="none"/>
<line x1="2312.4" y1="1301.5" x2="2517.0" y2="1301.5" stroke="#2b2a29" stroke-width="5.5" stroke-linecap="butt"/>
<line x1="2312.5" y1="1325.0" x2="2312.5" y2="1804.0" stroke="#2b2a29" stroke-width="5.5" stroke-linecap="butt"/>
<line x1="2499.0" y1="1302.0" x2="2499.0" y2="1804.0" stroke="#2b2a29" stroke-width="5.5" stroke-linecap="butt"/>
<line x1="2310.0" y1="1801.6" x2="2514.0" y2="1801.6" stroke="#2b2a29" stroke-width="5.5" stroke-linecap="butt"/>
<line x1="2312.0" y1="1552.4" x2="2517.0" y2="1552.4" stroke="#2b2a29" stroke-width="5.5" stroke-linecap="butt"/>
<circle cx="2515.0" cy="1508.0" r="6.5" fill="#2b2a29" stroke="none" stroke-width="0"/>
<circle cx="2515.0" cy="1597.0" r="6.5" fill="#2b2a29" stroke="none" stroke-width="0"/>
<circle cx="2515.0" cy="1757.0" r="6.5" fill="#2b2a29" stroke="none" stroke-width="0"/>
<circle cx="2514.0" cy="1893.0" r="6" fill="#2b2a29" stroke="none" stroke-width="0"/>
<circle cx="2514.0" cy="1346.5" r="6" fill="#2b2a29" stroke="none" stroke-width="0"/>
<line x1="2291.0" y1="1811.0" x2="2514.0" y2="1811.0" stroke="#2b2a29" stroke-width="5.5" stroke-linecap="butt"/>
<line x1="2293.8" y1="1808.0" x2="2293.8" y2="1858.0" stroke="#2b2a29" stroke-width="6.5" stroke-linecap="butt"/>
<line x1="2288.0" y1="1855.0" x2="2517.0" y2="1855.0" stroke="#2b2a29" stroke-width="9.5" stroke-linecap="round"/>
<path d="M2337,1860 L2350.6,1868.5 H2454.5 L2468,1860" stroke="#2b2a29" stroke-width="6" fill="none" stroke-linejoin="miter" stroke-linecap="butt" />
<line x1="2284.7" y1="1122.0" x2="2284.7" y2="1460.0" stroke="#2b2a29" stroke-width="6" stroke-linecap="butt"/>
<line x1="2292.2" y1="1122.0" x2="2292.2" y2="1460.0" stroke="#2b2a29" stroke-width="4.5" stroke-linecap="butt"/>
<path d="M2281.5,1125 H2240 Q2234,1126 2234,1131 V1175 Q2235,1181 2241,1181.5 H2281.5" stroke="#2b2a29" stroke-width="5.5" fill="none" stroke-linejoin="miter" stroke-linecap="butt" />
<polygon points="2236.0,1119.0 2282.0,1119.0 2282.0,1126.0 2240.0,1126.0" fill="#2b2a29"/>
<path d="M2246,1158 A9 9 0 0 0 2268,1158 Z" stroke="#2b2a29" stroke-width="3" fill="#2b2a29" stroke-linejoin="miter" stroke-linecap="butt" />
<path d="M2313,1461.5 H2240 V1526" stroke="#2b2a29" stroke-width="8" fill="none" stroke-linejoin="round" stroke-linecap="butt" />
<path d="M2313,1470.6 H2248.5 V1522" stroke="#2b2a29" stroke-width="4.5" fill="none" stroke-linejoin="miter" stroke-linecap="butt" />
<polygon points="2258.0,1459.0 2268.0,1455.0 2276.0,1459.0" fill="#2b2a29"/>
<line x1="2240.0" y1="1522.0" x2="2240.0" y2="1910.0" stroke="#2b2a29" stroke-width="8" stroke-linecap="butt"/>
<line x1="2256.5" y1="1527.0" x2="2256.5" y2="1908.0" stroke="#2b2a29" stroke-width="6.5" stroke-linecap="butt"/>
<line x1="2244.0" y1="1525.3" x2="2259.0" y2="1525.3" stroke="#2b2a29" stroke-width="4" stroke-linecap="butt"/>
<line x1="2082.5" y1="1068.0" x2="2082.5" y2="1411.0" stroke="#2b2a29" stroke-width="6.5" stroke-linecap="butt"/>
<line x1="2116.4" y1="1066.0" x2="2116.4" y2="1411.0" stroke="#2b2a29" stroke-width="10.5" stroke-linecap="butt"/>
<line x1="2159.8" y1="1129.0" x2="2159.8" y2="1411.0" stroke="#2b2a29" stroke-width="6" stroke-linecap="butt"/>
<line x1="2079.0" y1="1071.2" x2="2157.0" y2="1071.2" stroke="#2b2a29" stroke-width="5.5" stroke-linecap="butt"/>
<line x1="2079.0" y1="1409.4" x2="2163.0" y2="1409.4" stroke="#2b2a29" stroke-width="6.5" stroke-linecap="butt"/>
<path d="M2080,1412 Q2098,1421 2113,1412" stroke="#2b2a29" stroke-width="3.5" fill="none" stroke-linejoin="miter" stroke-linecap="butt" />
<circle cx="2142.4" cy="1346.7" r="11.5" fill="#2b2a29" stroke="none" stroke-width="0"/>
<line x1="2150.0" y1="1346.7" x2="2160.0" y2="1346.7" stroke="#2b2a29" stroke-width="5" stroke-linecap="butt"/>
<circle cx="2143.2" cy="1131.4" r="10" fill="#2b2a29" stroke="none" stroke-width="0"/>
<path d="M2157,1075.5 A9 9 0 0 0 2157,1093.5 Z" stroke="#2b2a29" stroke-width="1" fill="#2b2a29" stroke-linejoin="miter" stroke-linecap="butt" />
<line x1="2317.5" y1="2000.0" x2="2317.5" y2="2170.0" stroke="#2b2a29" stroke-width="7" stroke-linecap="butt"/>
<line x1="2513.7" y1="2000.0" x2="2513.7" y2="2170.0" stroke="#2b2a29" stroke-width="7" stroke-linecap="butt"/>
<line x1="2314.0" y1="2169.0" x2="2517.0" y2="2169.0" stroke="#2b2a29" stroke-width="7.5" stroke-linecap="butt"/>
<circle cx="2361.8" cy="2090.0" r="12" fill="none" stroke="#2b2a29" stroke-width="5"/>
<line x1="2351.0" y1="2087.0" x2="2373.0" y2="2087.0" stroke="#2b2a29" stroke-width="4.5" stroke-linecap="butt"/>
<line x1="2519.0" y1="2003.0" x2="2519.0" y2="2030.0" stroke="#2b2a29" stroke-width="3.5" stroke-linecap="butt"/>
<line x1="2524.0" y1="2003.0" x2="2524.0" y2="2030.0" stroke="#2b2a29" stroke-width="3.5" stroke-linecap="butt"/>
<polygon points="2518.0,2044.0 2528.0,2048.0 2529.0,2082.0 2522.0,2084.0 2518.0,2080.0" fill="#2b2a29"/>
<rect x="2518.5" y="2102.0" width="7.5" height="60.0" rx="3" stroke="#2b2a29" stroke-width="5" fill="#2b2a29"/>
<path d="M2339,2003 A9 6 0 0 0 2355,2003 Z" stroke="#2b2a29" stroke-width="1" fill="#2b2a29" stroke-linejoin="miter" stroke-linecap="butt" />
<path d="M2448,2003 A9 6 0 0 0 2464,2003 Z" stroke="#2b2a29" stroke-width="1" fill="#2b2a29" stroke-linejoin="miter" stroke-linecap="butt" />
<path d="M2564,2003 A9 6 0 0 0 2580,2003 Z" stroke="#2b2a29" stroke-width="1" fill="#2b2a29" stroke-linejoin="miter" stroke-linecap="butt" />
<rect x="2368.0" y="2177.0" width="16.0" height="5.0" rx="0" stroke="#2b2a29" stroke-width="3" fill="#2b2a29"/>
<line x1="1530.0" y1="1314.7" x2="2428.6" y2="1314.7" stroke="#00a0e3" stroke-width="21.3" stroke-linecap="butt"/>
<path d="M1539.4,1314.7 H1537.4 A213 200 0 0 0 1324.4,1514.7 V1842" stroke="#00a0e3" stroke-width="21.3" fill="none" stroke-linejoin="miter" stroke-linecap="butt" />
<polygon points="1324.4,1911.1 1289.3,1811.5 1324.4,1836.5 1359.5,1811.5" fill="#00a0e3"/>
<path d="M1827.1,1314.7 H1825.1 A213 200 0 0 0 1612.1,1514.7 V1842" stroke="#00a0e3" stroke-width="21.3" fill="none" stroke-linejoin="miter" stroke-linecap="butt" />
<polygon points="1612.1,1911.1 1577.0,1811.5 1612.1,1836.5 1647.2,1811.5" fill="#00a0e3"/>
<path d="M2067.8,1314.7 H2065.8 A213 200 0 0 0 1852.8,1514.7 V1842" stroke="#00a0e3" stroke-width="21.3" fill="none" stroke-linejoin="miter" stroke-linecap="butt" />
<polygon points="1852.8,1911.1 1817.7,1811.5 1852.8,1836.5 1887.9,1811.5" fill="#00a0e3"/>
</svg>
</body></html>
